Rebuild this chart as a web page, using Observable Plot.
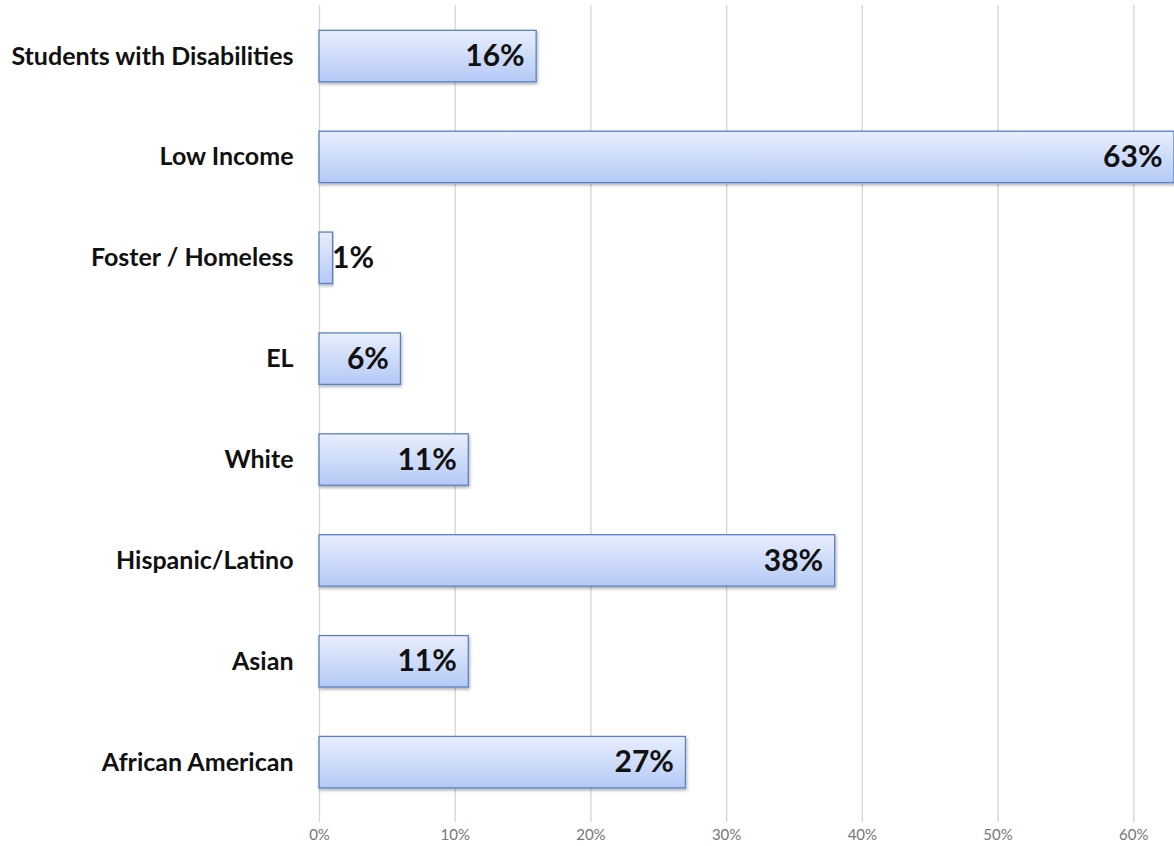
<!DOCTYPE html>
<html>
<head>
<meta charset="utf-8">
<script src="https://cdn.jsdelivr.net/npm/d3@7"></script>
<script src="https://cdn.jsdelivr.net/npm/@observablehq/plot@0.6"></script>
<style>
  html, body { margin: 0; padding: 0; background: #fff; }
  #chart svg { display: block; }
</style>
</head>
<body>
<div id="chart"></div>
<script>
const categories = ["Students with Disabilities", "Low Income", "Foster / Homeless", "EL", "White", "Hispanic/Latino", "Asian", "African American"];
const values = [0.16, 0.63, 0.01, 0.06, 0.11, 0.38, 0.11, 0.27];
const xTicks = [0, 0.1, 0.2, 0.3, 0.4, 0.5, 0.6];

const data = categories.map((c, i) => ({category: c, value: values[i]}));

function defs() {
  const ns = "http://www.w3.org/2000/svg";
  const d = document.createElementNS(ns, "defs");
  d.innerHTML = `
    <linearGradient id="barGrad" x1="0" y1="0" x2="0" y2="1">
      <stop offset="0%" stop-color="#e8effd"/>
      <stop offset="100%" stop-color="#b4c9f5"/>
    </linearGradient>
    <filter id="shadow" x="-5%" y="-20%" width="110%" height="150%">
      <feDropShadow dx="1" dy="2" stdDeviation="1.5" flood-color="#000" flood-opacity="0.3"/>
    </filter>`;
  return d;
}

const chart = Plot.plot({
  width: 1174,
  height: 846,
  marginLeft: 319,
  marginRight: 0,
  marginTop: 5,
  marginBottom: 24,
  style: {fontFamily: "Lato, 'Open Sans', sans-serif", background: "#fff"},
  x: {domain: [0, 0.63], axis: null},
  y: {domain: categories, range: [5.6, 812.6], paddingInner: 0.49, paddingOuter: 0.245, round: false, axis: null},
  marks: [
    defs,
    Plot.ruleX(xTicks, {x: d => d, stroke: "#d4d4d4", strokeWidth: 1.3}),
    Plot.barX(data, {x: "value", y: "category", fill: "url(#barGrad)", stroke: "#5c80c4", strokeWidth: 1.3}),
    Plot.text(data.filter(d => d.value >= 0.03), {x: "value", y: "category", text: d => Math.round(d.value * 100) + "%",
      textAnchor: "end", dx: -12, fontSize: 30, fontWeight: "bold", fill: "#111"}),
    Plot.text(data.filter(d => d.value < 0.03), {x: "value", y: "category", text: d => Math.round(d.value * 100) + "%",
      textAnchor: "start", dx: -1, fontSize: 30, fontWeight: "bold", fill: "#111"}),
    Plot.text(data, {x: 0, y: "category", text: "category", textAnchor: "end", dx: -26, fontSize: 25, fontWeight: "bold", fill: "#111"}),
    Plot.text(xTicks, {x: d => d, frameAnchor: "bottom", text: d => Math.round(d * 100) + "%", dy: 17, fontSize: 15, fill: "#767676"})
  ]
});
document.getElementById("chart").appendChild(chart);
chart.querySelectorAll("rect").forEach(r => r.setAttribute("filter", "url(#shadow)"));
</script>
</body>
</html>
